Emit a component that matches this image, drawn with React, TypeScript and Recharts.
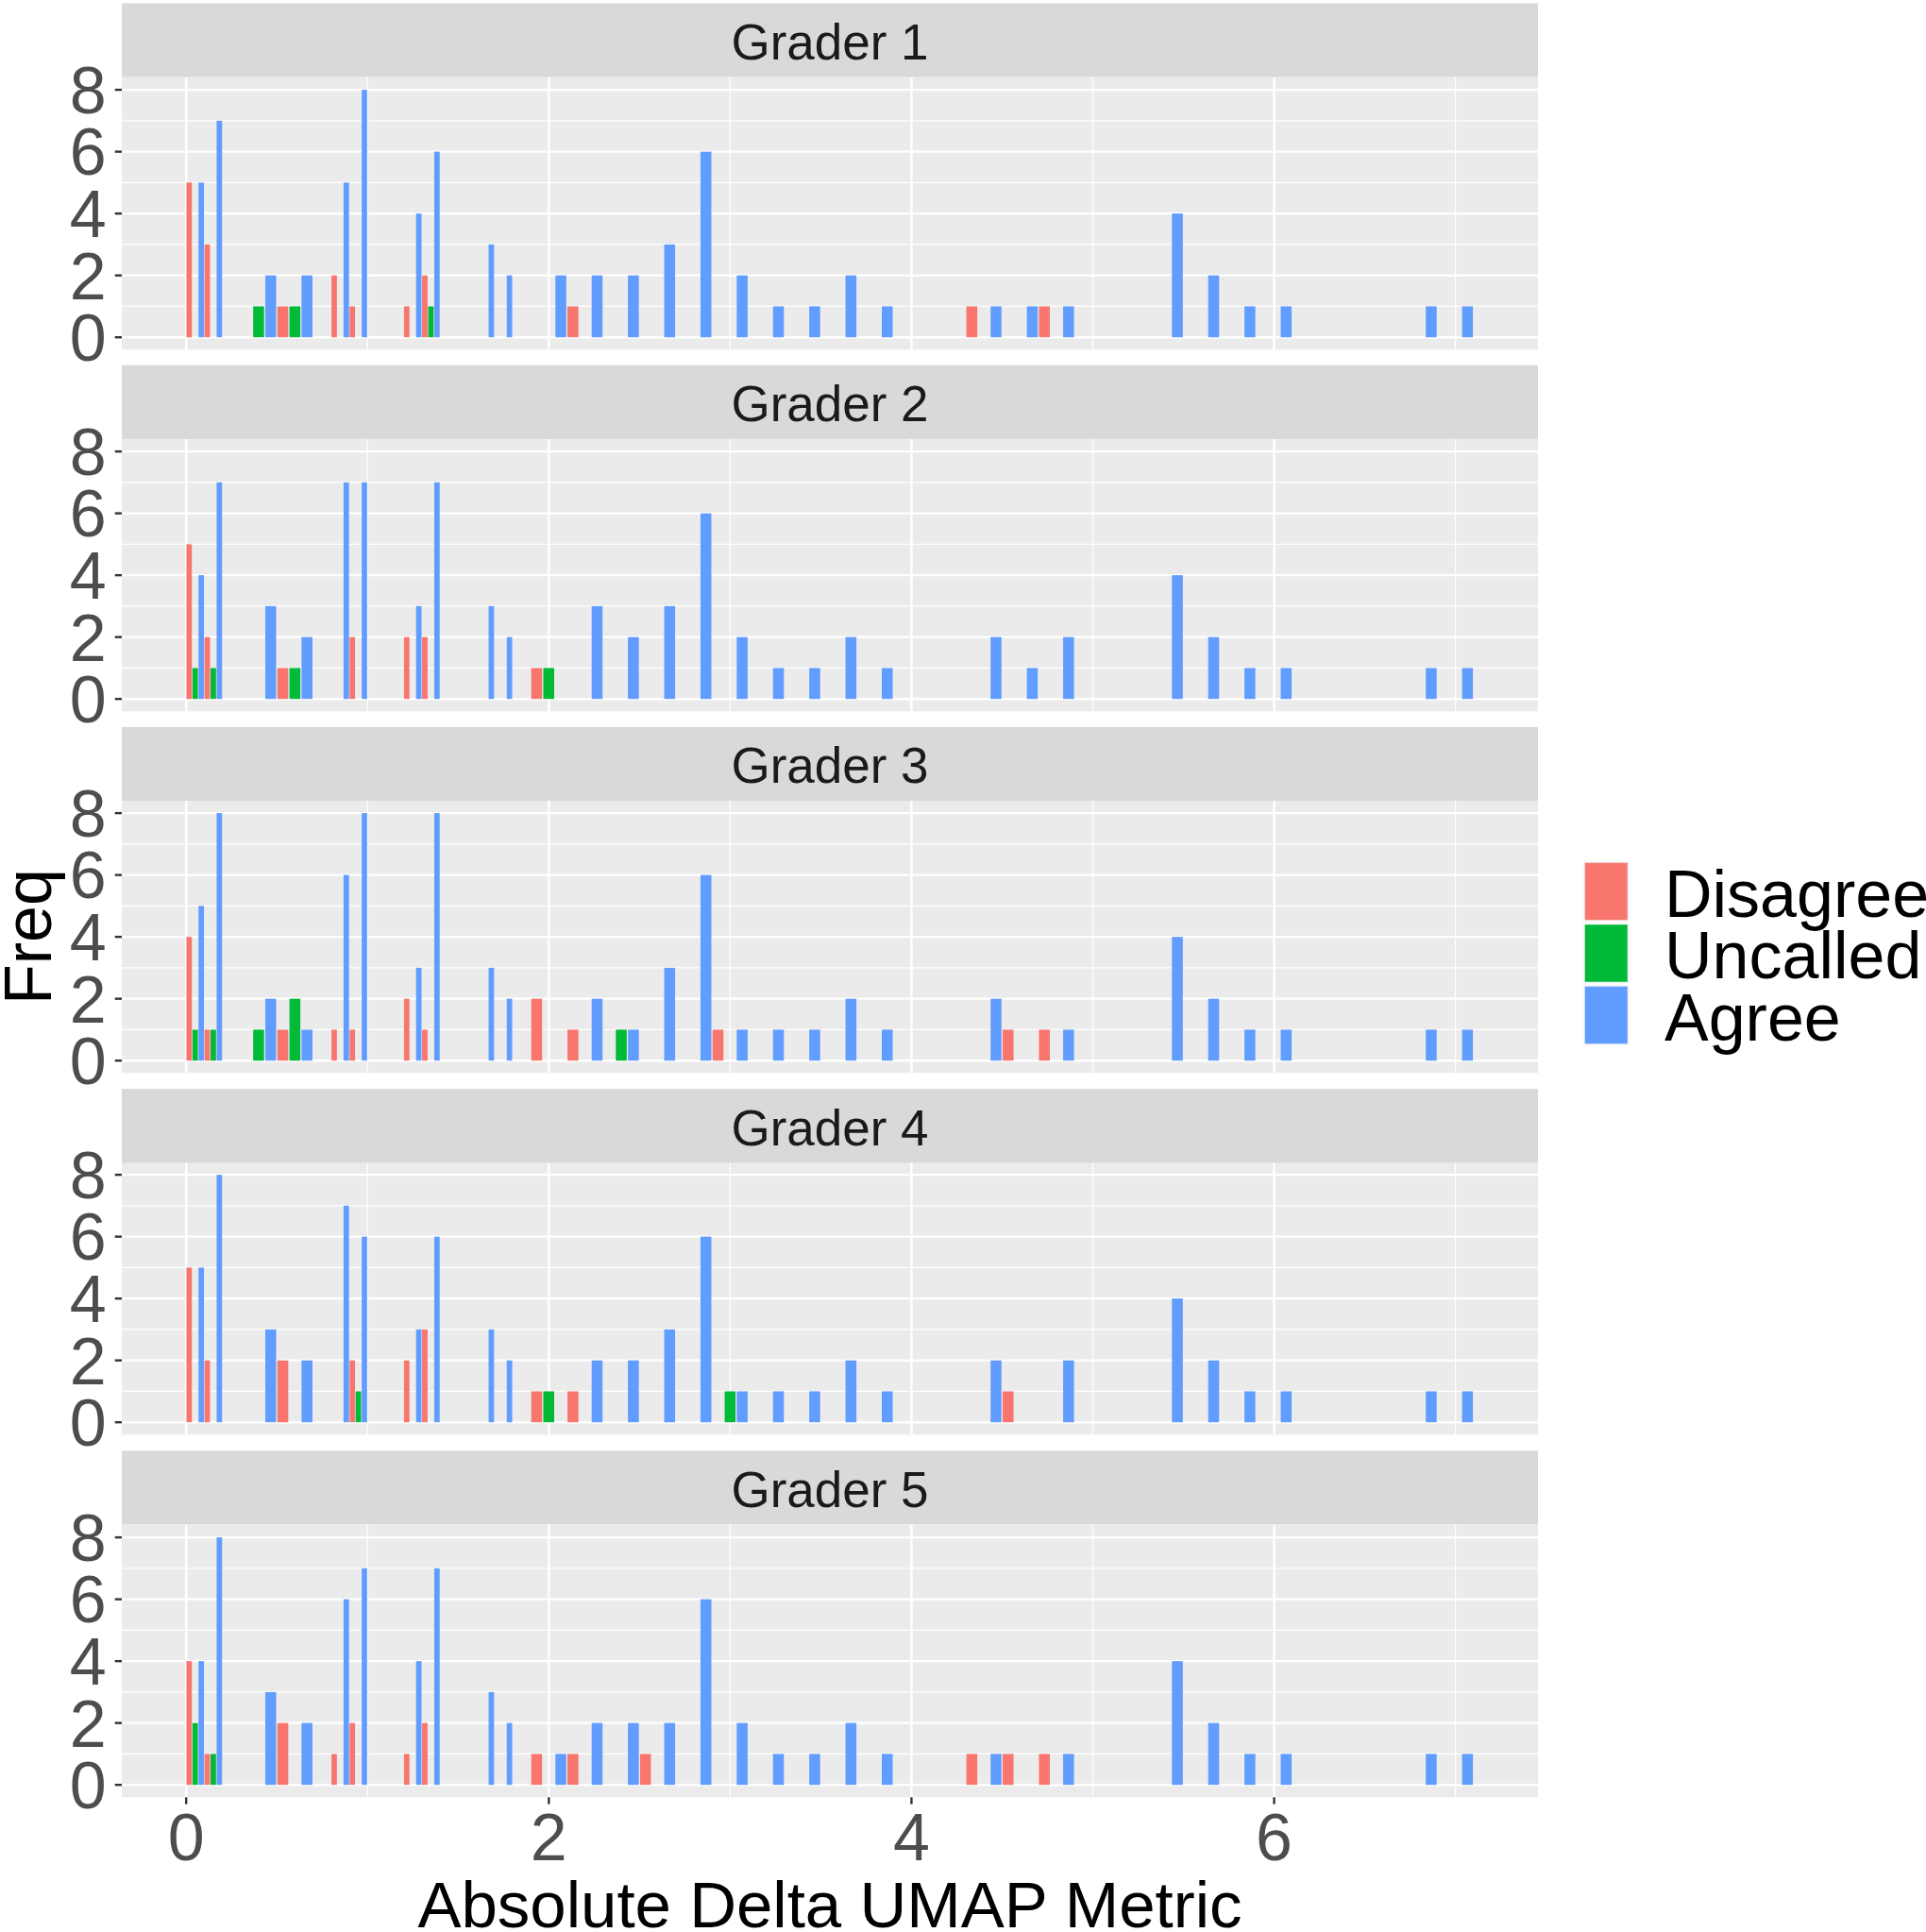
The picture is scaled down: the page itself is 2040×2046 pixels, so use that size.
import { BarChart, Bar, XAxis, YAxis, CartesianGrid } from 'recharts'

const FONT = '"Liberation Sans", Arial, sans-serif'

const GROUPS = ['Disagree', 'Uncalled', 'Agree']
const GROUP_COLORS = ['#F8766D', '#00BA38', '#619CFF']
const GRADERS = ['Grader 1', 'Grader 2', 'Grader 3', 'Grader 4', 'Grader 5']

// bin centres of the metric and the width of each bin
const BINS = [0.05, 0.15, 0.4, 0.6, 0.85, 0.95, 1.25, 1.35, 1.65, 1.75,
  2.0, 2.2, 2.4, 2.6, 2.8, 3.0, 3.2, 3.4, 3.6, 3.8, 4.4, 4.6, 4.8,
  5.4, 5.6, 5.8, 6.0, 6.8, 7.0]
const BIN_WIDTHS = [0.1, 0.1, 0.2, 0.2, 0.1, 0.1, 0.1, 0.1, 0.1, 0.1,
  0.2, 0.2, 0.2, 0.2, 0.2, 0.2, 0.2, 0.2, 0.2, 0.2, 0.2, 0.2, 0.2,
  0.2, 0.2, 0.2, 0.2, 0.2, 0.2]

// counts per bin
const G1_DISAGREE = [5, 3, 0, 1, 2, 1, 1, 2, 0, 0, 0, 1, 0, 0, 0, 0, 0, 0, 0, 0, 1, 0, 1, 0, 0, 0, 0, 0, 0]
const G1_UNCALLED = [0, 0, 1, 1, 0, 0, 0, 1, 0, 0, 0, 0, 0, 0, 0, 0, 0, 0, 0, 0, 0, 0, 0, 0, 0, 0, 0, 0, 0]
const G1_AGREE = [5, 7, 2, 2, 5, 8, 4, 6, 3, 2, 2, 2, 2, 3, 6, 2, 1, 1, 2, 1, 1, 1, 1, 4, 2, 1, 1, 1, 1]

const G2_DISAGREE = [5, 2, 0, 1, 0, 2, 2, 2, 0, 0, 1, 0, 0, 0, 0, 0, 0, 0, 0, 0, 0, 0, 0, 0, 0, 0, 0, 0, 0]
const G2_UNCALLED = [1, 1, 0, 1, 0, 0, 0, 0, 0, 0, 1, 0, 0, 0, 0, 0, 0, 0, 0, 0, 0, 0, 0, 0, 0, 0, 0, 0, 0]
const G2_AGREE = [4, 7, 3, 2, 7, 7, 3, 7, 3, 2, 0, 3, 2, 3, 6, 2, 1, 1, 2, 1, 2, 1, 2, 4, 2, 1, 1, 1, 1]

const G3_DISAGREE = [4, 1, 0, 1, 1, 1, 2, 1, 0, 0, 2, 1, 0, 0, 0, 1, 0, 0, 0, 0, 0, 1, 1, 0, 0, 0, 0, 0, 0]
const G3_UNCALLED = [1, 1, 1, 2, 0, 0, 0, 0, 0, 0, 0, 0, 1, 0, 0, 0, 0, 0, 0, 0, 0, 0, 0, 0, 0, 0, 0, 0, 0]
const G3_AGREE = [5, 8, 2, 1, 6, 8, 3, 8, 3, 2, 0, 2, 1, 3, 6, 1, 1, 1, 2, 1, 2, 0, 1, 4, 2, 1, 1, 1, 1]

const G4_DISAGREE = [5, 2, 0, 2, 0, 2, 2, 3, 0, 0, 1, 1, 0, 0, 0, 0, 0, 0, 0, 0, 0, 1, 0, 0, 0, 0, 0, 0, 0]
const G4_UNCALLED = [0, 0, 0, 0, 0, 1, 0, 0, 0, 0, 1, 0, 0, 0, 0, 1, 0, 0, 0, 0, 0, 0, 0, 0, 0, 0, 0, 0, 0]
const G4_AGREE = [5, 8, 3, 2, 7, 6, 3, 6, 3, 2, 0, 2, 2, 3, 6, 1, 1, 1, 2, 1, 2, 0, 2, 4, 2, 1, 1, 1, 1]

const G5_DISAGREE = [4, 1, 0, 2, 1, 2, 1, 2, 0, 0, 1, 1, 0, 1, 0, 0, 0, 0, 0, 0, 1, 1, 1, 0, 0, 0, 0, 0, 0]
const G5_UNCALLED = [2, 1, 0, 0, 0, 0, 0, 0, 0, 0, 0, 0, 0, 0, 0, 0, 0, 0, 0, 0, 0, 0, 0, 0, 0, 0, 0, 0, 0]
const G5_AGREE = [4, 8, 3, 2, 6, 7, 4, 7, 3, 2, 1, 2, 2, 2, 6, 2, 1, 1, 2, 1, 1, 0, 1, 4, 2, 1, 1, 1, 1]

const COUNTS = [
  [G1_DISAGREE, G1_UNCALLED, G1_AGREE],
  [G2_DISAGREE, G2_UNCALLED, G2_AGREE],
  [G3_DISAGREE, G3_UNCALLED, G3_AGREE],
  [G4_DISAGREE, G4_UNCALLED, G4_AGREE],
  [G5_DISAGREE, G5_UNCALLED, G5_AGREE],
]

const X_TICKS = [0, 2, 4, 6]
const X_MINOR = [1, 3, 5, 7]
const Y_TICKS = [0, 2, 4, 6, 8]
const Y_MINOR = [1, 3, 5, 7]
const X_DOMAIN = [-0.355, 7.455]
const Y_DOMAIN = [-0.4, 8.4]

// layout (px)
const Y_AXIS_W = 129
const PANEL_W = 1500
const PANEL_H = 288.3
const STRIP_H = 78.2
const STRIP_TOP = 3.5
const FACET_STEP = 383.2
const X_AXIS_H = 90
const PAD = 45 // room above/below the panel so tick labels are not clipped
const PX_PER_UNIT = PANEL_W / (X_DOMAIN[1] - X_DOMAIN[0])

// dodge: every bin is split in three slots, one per group
interface Row { x: number; n: number; group: number; bw: number }
const FACET_ROWS: Row[][] = COUNTS.map(groups => {
  const rows: Row[] = []
  BINS.forEach((c, i) => {
    groups.forEach((vals, g) => {
      if (vals[i] > 0) rows.push({ x: c + (g - 1) * BIN_WIDTHS[i] / 3, n: vals[i], group: g, bw: BIN_WIDTHS[i] })
    })
  })
  return rows
})

function DodgedBar(props: any) {
  const { x, y, width, height, payload } = props
  if (!height || height <= 0) return null
  const cx = x + width / 2
  const w = (payload.bw / 3) * 0.9 * PX_PER_UNIT
  return <rect x={cx - w / 2} y={y} width={w} height={height} fill={GROUP_COLORS[payload.group]} />
}

function Facet({ index }: { index: number }) {
  const last = index === GRADERS.length - 1
  const top = STRIP_TOP + index * FACET_STEP + STRIP_H - PAD
  const bottom = last ? 0 : PAD
  return (
    <div style={{ position: 'absolute', left: 0, top }}>
      <BarChart
        width={Y_AXIS_W + PANEL_W}
        height={PAD + PANEL_H + (last ? X_AXIS_H : bottom)}
        data={FACET_ROWS[index]}
        margin={{ top: PAD, right: 0, bottom, left: 0 }}
      >
        <CartesianGrid fill="#EBEBEB" stroke="#FFFFFF" strokeWidth={1.2}
          horizontalValues={Y_MINOR} verticalValues={X_MINOR} />
        <CartesianGrid stroke="#FFFFFF" strokeWidth={2.4}
          horizontalValues={Y_TICKS} verticalValues={X_TICKS} />
        <XAxis
          type="number" dataKey="x" domain={X_DOMAIN} ticks={X_TICKS} interval={0}
          hide={!last} height={X_AXIS_H}
          axisLine={false} tickSize={7.3} tickMargin={10}
          tickLine={{ stroke: '#333333', strokeWidth: 2.4 }}
          tick={{ fontSize: 70, fill: '#4D4D4D', fontFamily: FONT }}
        />
        <YAxis
          type="number" domain={Y_DOMAIN} ticks={Y_TICKS} interval={0}
          width={Y_AXIS_W} axisLine={false} tickSize={7.3} tickMargin={9}
          tickLine={{ stroke: '#333333', strokeWidth: 2.4 }}
          tick={{ fontSize: 70, fill: '#4D4D4D', fontFamily: FONT }}
        />
        <Bar dataKey="n" shape={<DodgedBar />} isAnimationActive={false} />
      </BarChart>
    </div>
  )
}

export default function App() {
  const legendTop = 913
  const keyStep = 65.5
  return (
    <div style={{ position: 'absolute', left: 0, top: 0, width: 2040, height: 2046, background: '#FFFFFF', fontFamily: FONT }}>
      {GRADERS.map((g, i) => <Facet key={g} index={i} />)}
      <svg width={2040} height={2046} style={{ position: 'absolute', left: 0, top: 0, pointerEvents: 'none' }}>
        {GRADERS.map((g, i) => {
          const t = STRIP_TOP + i * FACET_STEP
          return (
            <g key={g}>
              <rect x={Y_AXIS_W} y={t} width={PANEL_W} height={STRIP_H} fill="#D9D9D9" />
              <text x={Y_AXIS_W + PANEL_W / 2} y={t + 59.5} textAnchor="middle"
                fontSize={53} fill="#1A1A1A" fontFamily={FONT}>{g}</text>
            </g>
          )
        })}
        <text x={Y_AXIS_W + PANEL_W / 2} y={2041} textAnchor="middle" fontSize={69} fill="#000" fontFamily={FONT}>
          Absolute Delta UMAP Metric
        </text>
        <text transform="translate(54,992) rotate(-90)" textAnchor="middle" fontSize={70} fill="#000" fontFamily={FONT}>
          Freq
        </text>
        {GROUPS.map((name, i) => (
          <g key={name}>
            <rect x={1678} y={legendTop + i * keyStep} width={46.5} height={62}
              fill={GROUP_COLORS[i]} stroke="#F2F2F2" strokeWidth={1.5} />
            <text x={1763} y={legendTop + 57.7 + i * keyStep} fontSize={70} fill="#000" fontFamily={FONT}>{name}</text>
          </g>
        ))}
      </svg>
    </div>
  )
}
